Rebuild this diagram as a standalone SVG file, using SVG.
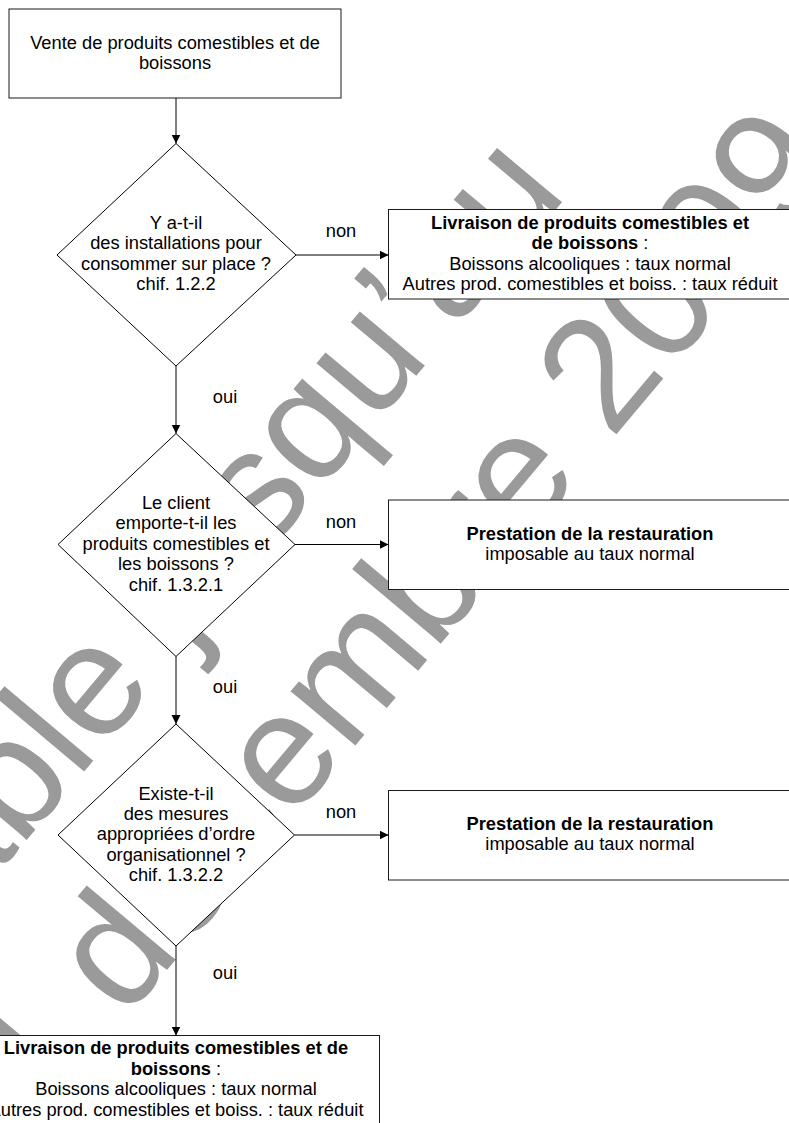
<svg xmlns="http://www.w3.org/2000/svg" width="789" height="1123" viewBox="0 0 789 1123">
<style>
  .wm { font-family: "Liberation Sans", Arial, sans-serif; font-size: 160px; fill: #9a9a9a; }
  .box { fill: #ffffff; stroke: #1a1a1a; stroke-width: 1; }
  .dia { fill: #ffffff; stroke: #000000; stroke-width: 1; }
  .t { font-family: "Liberation Sans", Arial, sans-serif; font-size: 18.3px; fill: #000000; text-anchor: middle; }
  .b { font-weight: bold; }
  .conn line { stroke: #000000; stroke-width: 1; }
</style>
<defs>
  <marker id="arrow" markerUnits="userSpaceOnUse" markerWidth="10" markerHeight="10" refX="9" refY="4.5" orient="auto">
    <path d="M0,0 L9,4.5 L0,9 z" fill="#000000"/>
  </marker>
</defs>
<rect x="0" y="0" width="789" height="1123" fill="#ffffff"/>
<g id="watermark" transform="translate(125,1020) rotate(-50)">
  <text class="wm" x="-244" y="-191">Valable jusqu’au</text>
  <text class="wm" x="-222" y="0">31 décembre 2009</text>
</g>
<g id="n1">
  <rect class="box" x="9" y="9" width="332" height="89"/>
  <text class="t" x="175" y="48.5">Vente de produits comestibles et de</text>
  <text class="t" x="175" y="69">boissons</text>
</g>
<g id="d1">
  <polygon class="dia" points="176,143.5 296,255 176,366 57,255"/>
  <text class="t" x="176" y="228.5">Y a-t-il</text>
  <text class="t" x="176" y="249">des installations pour</text>
  <text class="t" x="176" y="269.5">consommer sur place ?</text>
  <text class="t" x="176" y="290">chif. 1.2.2</text>
</g>
<g id="n2">
  <rect class="box" x="388.5" y="209.5" width="410" height="89.5"/>
  <text class="t b" x="590" y="228.5">Livraison de produits comestibles et</text>
  <text class="t" x="590" y="248.5"><tspan class="b">de boissons</tspan> :</text>
  <text class="t" x="590" y="269.5">Boissons alcooliques : taux normal</text>
  <text class="t" x="590" y="290">Autres prod. comestibles et boiss. : taux réduit</text>
</g>
<g id="d2">
  <polygon class="dia" points="176,433.5 295,544.5 176,656.5 58,544.5"/>
  <text class="t" x="176" y="509">Le client</text>
  <text class="t" x="176" y="529">emporte-t-il les</text>
  <text class="t" x="176" y="549.5">produits comestibles et</text>
  <text class="t" x="176" y="570">les boissons ?</text>
  <text class="t" x="176" y="590.5">chif. 1.3.2.1</text>
</g>
<g id="n3">
  <rect class="box" x="388.5" y="500" width="410" height="89.5"/>
  <text class="t b" x="590" y="539.5">Prestation de la restauration</text>
  <text class="t" x="590" y="560">imposable au taux normal</text>
</g>
<g id="d3">
  <polygon class="dia" points="176,724 294.5,835 176,946 58,835"/>
  <text class="t" x="176" y="799.5">Existe-t-il</text>
  <text class="t" x="176" y="820">des mesures</text>
  <text class="t" x="176" y="840">appropriées d’ordre</text>
  <text class="t" x="176" y="860.5">organisationnel ?</text>
  <text class="t" x="176" y="881">chif. 1.3.2.2</text>
</g>
<g id="n4">
  <rect class="box" x="388.5" y="790.5" width="410" height="89.5"/>
  <text class="t b" x="590" y="829.5">Prestation de la restauration</text>
  <text class="t" x="590" y="850">imposable au taux normal</text>
</g>
<g id="n5">
  <rect class="box" x="-27" y="1035.5" width="406.5" height="120"/>
  <text class="t b" x="176" y="1054">Livraison de produits comestibles et de</text>
  <text class="t" x="176" y="1074.5"><tspan class="b">boissons</tspan> :</text>
  <text class="t" x="176" y="1095">Boissons alcooliques : taux normal</text>
  <text class="t" x="176" y="1115.5">Autres prod. comestibles et boiss. : taux réduit</text>
</g>
<g id="connectors" class="conn">
  <line x1="176" y1="98" x2="176" y2="143.5" marker-end="url(#arrow)"/>
  <line x1="296" y1="255" x2="388.5" y2="255" marker-end="url(#arrow)"/>
  <line x1="176" y1="366" x2="176" y2="433.5" marker-end="url(#arrow)"/>
  <line x1="295" y1="544.5" x2="388.5" y2="544.5" marker-end="url(#arrow)"/>
  <line x1="176" y1="656.5" x2="176" y2="724" marker-end="url(#arrow)"/>
  <line x1="294.5" y1="835" x2="388.5" y2="835" marker-end="url(#arrow)"/>
  <line x1="176" y1="946" x2="176" y2="1035.5" marker-end="url(#arrow)"/>
  <text class="t" x="341" y="236.5">non</text>
  <text class="t" x="225" y="403">oui</text>
  <text class="t" x="341" y="527.5">non</text>
  <text class="t" x="225" y="692.5">oui</text>
  <text class="t" x="341" y="817.5">non</text>
  <text class="t" x="225" y="979">oui</text>
</g>
</svg>
